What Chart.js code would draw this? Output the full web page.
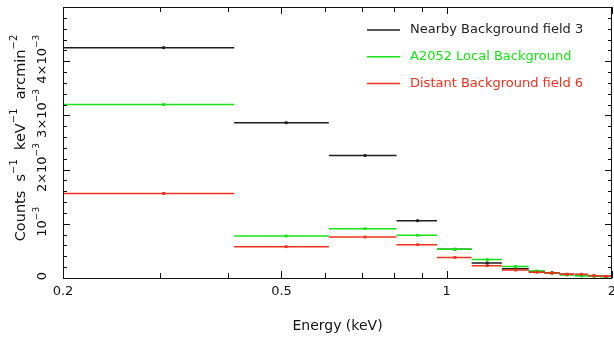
<!DOCTYPE html>
<html>
<head>
<meta charset="utf-8">
<script src="https://cdn.jsdelivr.net/npm/chart.js@4.4.0/dist/chart.umd.min.js"></script>
<style>
  html, body { margin: 0; padding: 0; background: #fff; }
</style>
</head>
<body>
<canvas id="chart" width="614" height="338"></canvas>
<script>
// energy bins (keV): centre and half width
const energy    = [0.305, 0.51, 0.71, 0.885, 1.035, 1.185, 1.335, 1.46, 1.555, 1.655, 1.76, 1.855, 1.95];
const halfWidth = [0.105, 0.10, 0.10, 0.075, 0.075, 0.075, 0.075, 0.05, 0.05, 0.05, 0.05, 0.045, 0.05];

// counts s^-1 keV^-1 arcmin^-2, in units of 1e-3
const nearbyField3  = [4.25, 2.865, 2.26, 1.057, 0.53, 0.277, 0.17, 0.12, 0.098, 0.068, 0.06, 0.04, 0.03];
const a2052Local    = [3.20, 0.775, 0.91, 0.788, 0.53, 0.34, 0.21, 0.13, 0.087, 0.055, 0.037, 0.03, 0.025];
const distantField6 = [1.56, 0.578, 0.756, 0.615, 0.38, 0.227, 0.148, 0.105, 0.09, 0.068, 0.068, 0.042, 0.03];

const seriesNames = ['Nearby Background field 3', 'A2052 Local Background', 'Distant Background field 6'];
const seriesColors = ['#1e1e1e', '#14e614', '#f2301e'];

const xTicks = [0.2, 0.5, 1, 2];
const xTickLabels = ['0.2', '0.5', '1', '2'];
const xMinorTicks = [0.3, 0.4, 0.6, 0.7, 0.8, 0.9];
const yTicks = [0, 0.001, 0.002, 0.003, 0.004];
// [base, superscript] pairs
const yTickLabels = [
  [['0', '']],
  [['10', '\u22123']],
  [['2\u00D710', '\u22123']],
  [['3\u00D710', '\u22123']],
  [['4\u00D710', '\u22123']]
];
const yTitle = [['Counts  s', '\u22121'], ['  keV', '\u22121'], ['  arcmin', '\u22122']];
const yMinorStep = 0.0002;
const yMax = 0.005;

const FONT = 'DejaVu Sans';

// each bin becomes lo -> centre -> hi, then a gap
function binLine(values) {
  const pts = [];
  values.forEach((v, i) => {
    const y = v * 1e-3;
    pts.push({ x: energy[i] - halfWidth[i], y });
    pts.push({ x: energy[i], y });
    pts.push({ x: energy[i] + halfWidth[i], y });
    pts.push({ x: energy[i], y: null });
  });
  return pts;
}

// text with superscripts, centred on (0,0) of the current transform
function drawSup(ctx, parts, size) {
  const big = `${size}px "${FONT}"`, small = `${Math.round(size * 0.72)}px "${FONT}"`;
  let w = 0;
  parts.forEach(([b, s]) => {
    ctx.font = big; w += ctx.measureText(b).width;
    ctx.font = small; w += ctx.measureText(s).width;
  });
  let x = -w / 2;
  ctx.textAlign = 'left';
  ctx.textBaseline = 'middle';
  parts.forEach(([b, s]) => {
    ctx.font = big; ctx.fillText(b, x, 0); x += ctx.measureText(b).width;
    ctx.font = small; ctx.fillText(s, x, -size * 0.45); x += ctx.measureText(s).width;
  });
}

const frame = {
  id: 'frame',
  afterDraw(chart) {
    const { ctx, chartArea: a, scales } = chart;
    const xs = scales.x, ys = scales.y;
    ctx.save();
    ctx.strokeStyle = '#111';
    ctx.lineWidth = 1;
    ctx.strokeRect(a.left + 0.5, a.top + 0.5, a.right - a.left - 1, a.bottom - a.top);

    ctx.beginPath();
    // x ticks, inward, bottom and top
    xTicks.concat(xMinorTicks).forEach(v => {
      const px = Math.round(xs.getPixelForValue(v)) + 0.5;
      const len = xTicks.includes(v) ? 7 : 5;
      ctx.moveTo(px, a.bottom); ctx.lineTo(px, a.bottom - len);
      ctx.moveTo(px, a.top); ctx.lineTo(px, a.top + len);
    });
    // y ticks, inward, left and right
    for (let k = 0; k * yMinorStep <= yMax + 1e-9; k++) {
      const v = k * yMinorStep;
      const py = Math.round(ys.getPixelForValue(v)) + 0.5;
      const len = k % 5 === 0 ? 7 : 4;
      ctx.moveTo(a.left, py); ctx.lineTo(a.left + len, py);
      ctx.moveTo(a.right, py); ctx.lineTo(a.right - len, py);
    }
    ctx.stroke();

    // rotated y tick labels
    ctx.fillStyle = '#111';
    yTicks.forEach((v, i) => {
      const py = ys.getPixelForValue(v);
      ctx.save();
      ctx.translate(43, py - 2);
      ctx.rotate(-Math.PI / 2);
      drawSup(ctx, yTickLabels[i], 13);
      ctx.restore();
    });

    // y axis title
    ctx.save();
    ctx.translate(21, 138);
    ctx.rotate(-Math.PI / 2);
    drawSup(ctx, yTitle, 14.5);
    ctx.restore();

    // legend, top right inside the frame
    ctx.font = `13px "${FONT}"`;
    ctx.textAlign = 'left';
    ctx.textBaseline = 'middle';
    seriesNames.forEach((name, i) => {
      const y = 30 + i * 26.7;
      ctx.strokeStyle = seriesColors[i];
      ctx.lineWidth = 1.5;
      ctx.beginPath();
      ctx.moveTo(367, y); ctx.lineTo(400, y);
      ctx.stroke();
      ctx.fillStyle = seriesColors[i];
      ctx.fillText(name, 410, y);
    });
    ctx.restore();
  }
};

const allSeries = [nearbyField3, a2052Local, distantField6];

new Chart(document.getElementById('chart'), {
  type: 'line',
  data: {
    datasets: allSeries.map((vals, i) => ({
      label: seriesNames[i],
      data: binLine(vals),
      borderColor: seriesColors[i],
      backgroundColor: seriesColors[i],
      borderWidth: 1.5,
      pointStyle: 'rect',
      pointRadius: ctx => (ctx.index % 4 === 1 ? 2 : 0),
      pointBorderWidth: 0,
      spanGaps: false,
      tension: 0,
      order: 3 - i
    }))
  },
  options: {
    responsive: false,
    devicePixelRatio: 1,
    animation: false,
    layout: { padding: { top: 7, right: 2, left: 0, bottom: 0 } },
    plugins: {
      legend: { display: false },
      tooltip: { enabled: false }
    },
    scales: {
      x: {
        type: 'logarithmic',
        min: 0.2,
        max: 2,
        afterBuildTicks: s => { s.ticks = xTicks.map(v => ({ value: v })); },
        afterFit: s => { s.height = 60; s.paddingLeft = 0; s.paddingRight = 0; },
        grid: { display: false, drawTicks: false },
        border: { display: false },
        ticks: {
          callback: (v, i) => xTickLabels[i],
          autoSkip: false,
          maxRotation: 0,
          padding: 6,
          color: '#111',
          font: { family: FONT, size: 13 }
        },
        title: {
          display: true,
          text: 'Energy (keV)',
          color: '#111',
          font: { family: FONT, size: 14 },
          padding: { top: 0, bottom: 3 }
        }
      },
      y: {
        type: 'linear',
        min: 0,
        max: yMax,
        afterFit: s => { s.width = 63; s.paddingTop = 0; s.paddingBottom = 0; },
        grid: { display: false, drawTicks: false },
        border: { display: false },
        ticks: { display: false },
        title: { display: false }
      }
    }
  },
  plugins: [frame]
});
</script>
</body>
</html>
